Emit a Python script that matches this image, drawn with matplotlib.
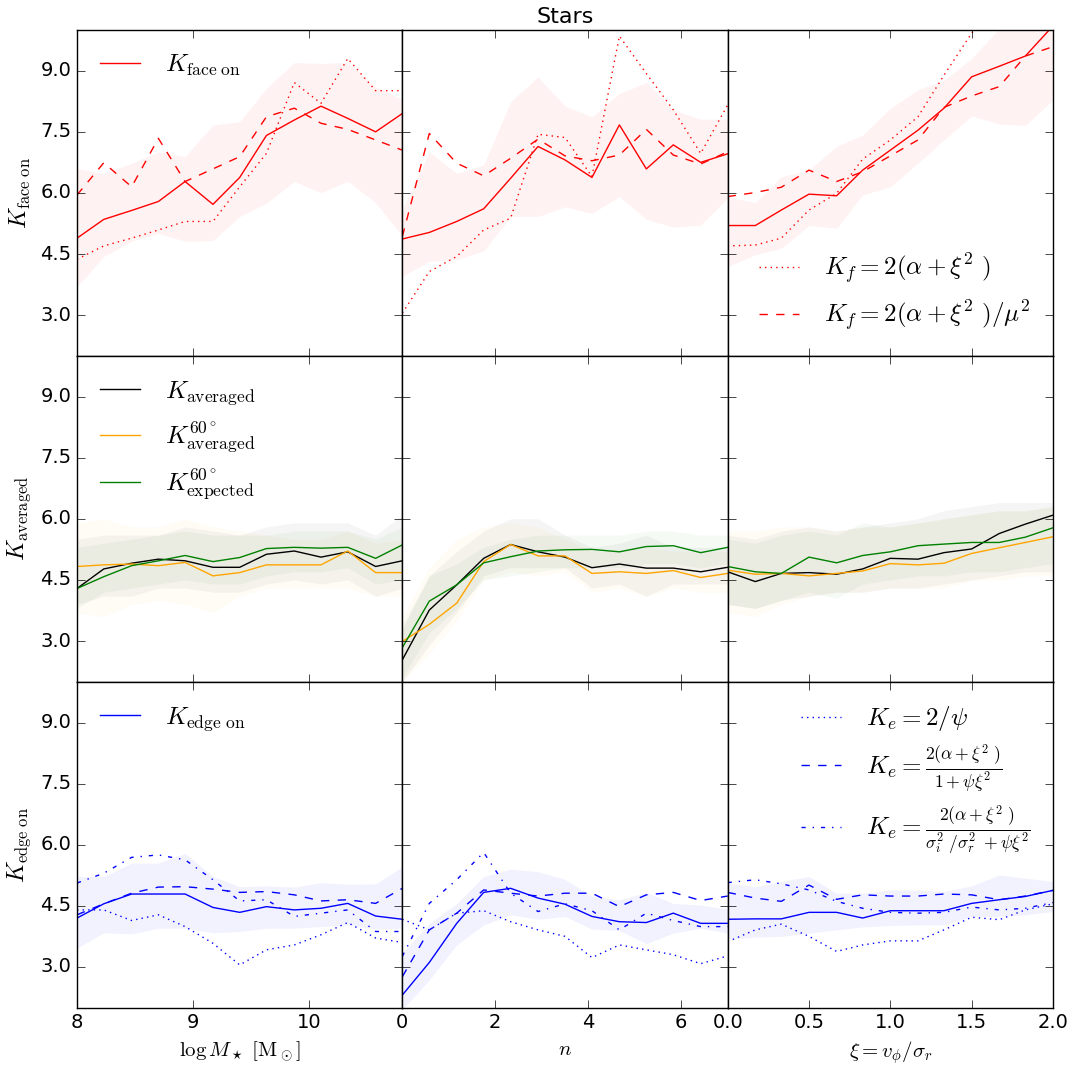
import numpy as np
import matplotlib
matplotlib.use("Agg")
import matplotlib.pyplot as plt

plt.style.use("classic")
plt.rcParams["mathtext.fontset"] = "cm"
plt.rcParams["figure.facecolor"] = "white"
plt.rcParams["savefig.facecolor"] = "white"

# bin centres for the three columns
logm = [8.0, 8.23, 8.47, 8.7, 8.93, 9.17, 9.4, 9.63, 9.87, 10.1, 10.33, 10.57, 10.8]
sersic_n = [0.0, 0.58, 1.17, 1.75, 2.33, 2.92, 3.5, 4.08, 4.67, 5.25, 5.83, 6.42, 7.0]
xi = [0.0, 0.17, 0.33, 0.5, 0.67, 0.83, 1.0, 1.17, 1.33, 1.5, 1.67, 1.83, 2.0]

# ---- face on (row 1) ----
face_m = [4.89, 5.35, 5.57, 5.79, 6.28, 5.72, 6.38, 7.41, 7.79, 8.13, 7.83, 7.50, 7.95]
face_m_lo = [3.70, 4.44, 4.81, 5.01, 4.81, 4.83, 5.42, 5.75, 6.28, 6.00, 6.29, 5.76, 4.93]
face_m_hi = [6.60, 6.48, 6.73, 7.01, 6.89, 7.67, 7.75, 8.57, 9.20, 9.18, 9.20, 8.60, 8.30]
face_m_dot = [4.37, 4.70, 4.89, 5.09, 5.30, 5.30, 6.15, 6.97, 8.71, 8.20, 9.30, 8.51, 8.51]
face_m_dash = [5.95, 6.74, 6.15, 7.34, 6.28, 6.59, 6.89, 7.87, 8.08, 7.71, 7.56, 7.30, 7.05]

face_n = [4.87, 5.03, 5.30, 5.61, 6.36, 7.14, 6.81, 6.38, 7.67, 6.59, 7.18, 6.75, 6.96]
face_n_lo = [3.95, 4.32, 4.36, 4.58, 5.42, 5.42, 5.66, 5.50, 5.91, 5.35, 5.16, 5.21, 5.87]
face_n_hi = [5.60, 7.01, 6.48, 6.69, 8.24, 8.85, 8.13, 7.87, 8.44, 8.71, 8.04, 7.81, 7.81]
face_n_dot = [3.05, 4.07, 4.44, 5.09, 5.38, 7.44, 7.36, 6.40, 9.85, 8.93, 8.04, 6.97, 8.16]
face_n_dash = [4.93, 7.46, 6.73, 6.42, 6.85, 7.32, 6.91, 6.79, 6.93, 7.56, 6.93, 6.71, 7.01]

face_x = [5.20, 5.20, 5.58, 5.97, 5.93, 6.56, 7.05, 7.54, 8.08, 8.85, 9.11, 9.36, 10.10]
face_x_lo = [4.19, 4.48, 4.64, 5.20, 5.13, 5.95, 6.15, 6.73, 7.30, 7.89, 7.69, 7.66, 8.28]
face_x_hi = [5.91, 5.76, 6.40, 6.56, 7.15, 7.42, 8.08, 8.53, 8.77, 9.30, 10.04, 10.30, 10.40]
face_x_dot = [4.70, 4.72, 4.89, 5.58, 5.99, 6.83, 7.30, 7.87, 8.89, 9.92, 10.80, 11.50, 12.00]
face_x_dash = [5.91, 6.01, 6.14, 6.56, 6.28, 6.52, 6.91, 7.30, 8.10, 8.38, 8.61, 9.36, 9.59]

# ---- averaged (row 2) ----
avg_m = [4.29, 4.77, 4.91, 5.01, 4.97, 4.81, 4.81, 5.13, 5.21, 5.06, 5.19, 4.83, 4.97]
avg_m_lo = [3.90, 4.10, 4.10, 4.30, 4.30, 4.20, 4.20, 4.40, 4.50, 4.40, 4.50, 4.10, 4.30]
avg_m_hi = [5.50, 5.60, 5.60, 5.60, 5.80, 5.70, 5.60, 5.80, 5.90, 5.90, 5.90, 5.60, 6.10]
avg60_m = [4.83, 4.87, 4.89, 4.85, 4.93, 4.60, 4.68, 4.87, 4.87, 4.87, 5.21, 4.68, 4.68]
avg60_m_lo = [3.70, 3.60, 3.90, 4.00, 3.90, 3.70, 4.10, 4.30, 4.30, 4.30, 4.30, 4.10, 4.10]
avg60_m_hi = [5.90, 6.00, 5.80, 5.80, 6.00, 5.80, 5.70, 5.60, 5.50, 5.50, 5.70, 5.40, 5.50]
exp60_m = [4.29, 4.58, 4.85, 4.97, 5.10, 4.95, 5.05, 5.27, 5.30, 5.28, 5.30, 5.03, 5.36]
exp60_m_lo = [3.80, 4.20, 4.30, 4.40, 4.50, 4.40, 4.40, 4.60, 4.70, 4.70, 4.80, 4.40, 4.50]
exp60_m_hi = [5.30, 5.40, 5.50, 5.60, 5.70, 5.60, 5.60, 5.60, 5.70, 5.70, 5.70, 5.50, 5.80]

avg_n = [2.54, 3.76, 4.38, 5.03, 5.37, 5.19, 5.06, 4.80, 4.89, 4.79, 4.79, 4.70, 4.81]
avg_n_lo = [2.00, 2.90, 3.70, 4.60, 4.80, 4.80, 4.80, 4.30, 4.40, 4.10, 4.40, 4.40, 4.40]
avg_n_hi = [3.30, 4.60, 5.20, 5.70, 6.00, 6.00, 5.60, 5.30, 5.40, 5.60, 5.30, 5.30, 5.30]
avg60_n = [2.99, 3.41, 3.93, 4.95, 5.37, 5.09, 5.09, 4.66, 4.70, 4.66, 4.73, 4.56, 4.66]
avg60_n_lo = [2.00, 2.70, 3.50, 4.50, 4.70, 4.60, 4.70, 4.20, 4.30, 4.10, 4.30, 4.20, 4.20]
avg60_n_hi = [3.60, 4.80, 5.50, 5.80, 5.90, 5.80, 5.50, 5.20, 5.20, 5.30, 5.20, 5.20, 5.20]
exp60_n = [2.84, 3.98, 4.38, 4.92, 5.07, 5.21, 5.24, 5.25, 5.19, 5.32, 5.34, 5.17, 5.30]
exp60_n_lo = [2.10, 3.20, 3.80, 4.50, 4.60, 4.70, 4.80, 4.80, 4.80, 4.90, 4.90, 4.80, 4.90]
exp60_n_hi = [3.40, 4.60, 4.90, 5.30, 5.50, 5.60, 5.60, 5.60, 5.60, 5.70, 5.70, 5.60, 5.60]

avg_x = [4.70, 4.46, 4.66, 4.68, 4.64, 4.77, 5.03, 5.01, 5.17, 5.26, 5.64, 5.87, 6.09]
avg_x_lo = [3.90, 3.80, 4.00, 4.10, 4.20, 4.20, 4.30, 4.30, 4.40, 4.50, 4.60, 4.70, 4.70]
avg_x_hi = [5.60, 5.50, 5.70, 5.80, 5.70, 5.80, 5.90, 6.00, 6.20, 6.30, 6.40, 6.40, 6.40]
avg60_x = [4.74, 4.64, 4.66, 4.60, 4.66, 4.72, 4.90, 4.87, 4.91, 5.15, 5.29, 5.42, 5.56]
avg60_x_lo = [3.70, 3.60, 3.90, 4.10, 4.20, 4.20, 4.30, 4.30, 4.30, 4.50, 4.50, 4.60, 4.60]
avg60_x_hi = [5.70, 5.70, 5.80, 5.80, 5.70, 5.80, 5.80, 5.90, 6.00, 6.10, 6.20, 6.20, 6.30]
exp60_x = [4.83, 4.70, 4.66, 5.06, 4.92, 5.10, 5.19, 5.34, 5.38, 5.42, 5.42, 5.55, 5.78]
exp60_x_lo = [3.90, 3.80, 4.00, 4.20, 4.05, 4.40, 4.50, 4.60, 4.60, 4.70, 4.70, 4.80, 4.90]
exp60_x_hi = [5.50, 5.40, 5.60, 5.70, 5.60, 5.90, 5.80, 5.90, 6.00, 6.10, 6.20, 6.20, 6.30]

# ---- edge on (row 3) ----
edge_m = [4.20, 4.55, 4.79, 4.79, 4.79, 4.46, 4.34, 4.48, 4.40, 4.44, 4.56, 4.25, 4.17]
edge_m_lo = [3.46, 3.84, 3.81, 3.95, 3.95, 3.84, 3.87, 3.95, 3.95, 3.99, 4.03, 3.93, 3.95]
edge_m_hi = [5.22, 5.22, 5.55, 5.55, 5.79, 5.22, 4.97, 4.99, 4.96, 5.07, 5.03, 5.04, 5.46]
edge_m_dot = [4.40, 4.40, 4.14, 4.28, 3.99, 3.58, 3.05, 3.42, 3.54, 3.79, 4.09, 3.71, 3.60]
edge_m_dash = [4.28, 4.55, 4.81, 4.96, 4.97, 4.91, 4.83, 4.85, 4.77, 4.62, 4.65, 4.56, 4.93]
edge_m_dd = [5.06, 5.30, 5.69, 5.75, 5.63, 5.14, 4.62, 4.65, 4.24, 4.32, 4.40, 3.87, 3.87]

edge_n = [2.31, 3.11, 4.07, 4.83, 4.93, 4.69, 4.54, 4.24, 4.11, 4.09, 4.32, 4.07, 4.07]
edge_n_lo = [1.95, 2.68, 3.54, 4.03, 4.28, 4.17, 4.24, 3.93, 3.89, 3.57, 3.83, 3.95, 3.83]
edge_n_hi = [3.34, 4.07, 4.56, 5.22, 5.40, 5.34, 5.15, 4.74, 4.65, 4.83, 4.56, 4.52, 4.42]
edge_n_dot = [4.17, 3.91, 4.32, 4.38, 4.11, 3.91, 3.75, 3.23, 3.54, 3.42, 3.30, 3.08, 3.27]
edge_n_dash = [2.76, 3.91, 4.32, 4.89, 4.81, 4.74, 4.81, 4.81, 4.48, 4.77, 4.83, 4.63, 4.74]
edge_n_dd = [3.26, 4.56, 5.14, 5.81, 4.81, 4.36, 4.55, 4.38, 3.91, 4.32, 4.14, 3.99, 3.99]

edge_x = [4.17, 4.18, 4.18, 4.34, 4.34, 4.20, 4.38, 4.38, 4.38, 4.56, 4.65, 4.73, 4.88]
edge_x_lo = [3.68, 3.73, 3.75, 3.83, 3.91, 3.98, 4.02, 4.03, 4.03, 4.24, 4.24, 4.28, 4.36]
edge_x_hi = [5.06, 4.97, 5.10, 5.22, 4.81, 4.81, 4.89, 4.89, 4.85, 4.99, 5.26, 5.18, 5.10]
edge_x_dot = [3.62, 3.91, 4.05, 3.75, 3.38, 3.54, 3.64, 3.64, 3.91, 4.22, 4.16, 4.40, 4.55]
edge_x_dash = [4.83, 4.69, 4.61, 5.01, 4.66, 4.77, 4.74, 4.74, 4.79, 4.77, 4.65, 4.74, 4.88]
edge_x_dd = [5.07, 5.14, 5.04, 4.89, 4.61, 4.44, 4.34, 4.32, 4.34, 4.47, 4.40, 4.44, 4.58]

xs = [logm, sersic_n, xi]
xlims = [(8, 10.8), (0, 7), (0, 2)]
xticks = [[8, 9, 10], [0, 2, 4, 6], [0.0, 0.5, 1.0, 1.5, 2.0]]
xticklabels = [["8", "9", "10"], ["0", "2", "4", "6"], ["0.0", "0.5", "1.0", "1.5", "2.0"]]
xlabels = [r"$\log M_\star\ [{\rm M_\odot}]$", r"$n$", r"$\xi = v_\phi/\sigma_r$"]
ylabels = [r"$K_{\rm face\ on}$", r"$K_{\rm averaged}$", r"$K_{\rm edge\ on}$"]

face = [(face_m, face_m_lo, face_m_hi, face_m_dot, face_m_dash),
        (face_n, face_n_lo, face_n_hi, face_n_dot, face_n_dash),
        (face_x, face_x_lo, face_x_hi, face_x_dot, face_x_dash)]
avg = [((avg_m, avg_m_lo, avg_m_hi), (avg60_m, avg60_m_lo, avg60_m_hi), (exp60_m, exp60_m_lo, exp60_m_hi)),
       ((avg_n, avg_n_lo, avg_n_hi), (avg60_n, avg60_n_lo, avg60_n_hi), (exp60_n, exp60_n_lo, exp60_n_hi)),
       ((avg_x, avg_x_lo, avg_x_hi), (avg60_x, avg60_x_lo, avg60_x_hi), (exp60_x, exp60_x_lo, exp60_x_hi))]
edge = [(edge_m, edge_m_lo, edge_m_hi, edge_m_dot, edge_m_dash, edge_m_dd),
        (edge_n, edge_n_lo, edge_n_hi, edge_n_dot, edge_n_dash, edge_n_dd),
        (edge_x, edge_x_lo, edge_x_hi, edge_x_dot, edge_x_dash, edge_x_dd)]

fig, axes = plt.subplots(3, 3, figsize=(10.76, 10.67), dpi=100)
fig.subplots_adjust(left=0.0716, right=0.9786, top=0.9719, bottom=0.0556,
                    wspace=0, hspace=0)

leg_fs = 18
for j in range(3):
    x = xs[j]
    # row 1
    ax = axes[0, j]
    m, lo, hi, dot, dash = face[j]
    ax.fill_between(x, lo, hi, color="r", alpha=0.05, lw=0)
    ax.plot(x, m, "r-", label=r"$K_{\rm face\ on}$")
    ax.plot(x, dot, "r:", label=r"$K_f = 2(\alpha + \xi^2\ )$")
    ax.plot(x, dash, "r--", label=r"$K_f = 2(\alpha + \xi^2\ )/\mu^2$")
    # row 2
    ax = axes[1, j]
    cols = ["k", "orange", "g"]
    labs = [r"$K_{\rm averaged}$", r"$K_{\rm averaged}^{60^\circ}$", r"$K_{\rm expected}^{60^\circ}$"]
    for (m, lo, hi), c, lab in zip(avg[j], cols, labs):
        ax.fill_between(x, lo, hi, color=c, alpha=0.04, lw=0)
        ax.plot(x, m, "-", color=c, label=lab)
    # row 3
    ax = axes[2, j]
    m, lo, hi, dot, dash, dd = edge[j]
    ax.fill_between(x, lo, hi, color="b", alpha=0.05, lw=0)
    ax.plot(x, m, "b-", label=r"$K_{\rm edge\ on}$")
    ax.plot(x, dot, "b:", label=r"$K_e = 2/\psi$")
    ax.plot(x, dash, "b--", label=r"$K_e = \frac{2(\alpha+\xi^2\ )}{1+\psi\xi^2}$")
    ax.plot(x, dd, "b-.", label=r"$K_e = \frac{2(\alpha+\xi^2\ )}{\sigma_i^2\ /\sigma_r^2\ +\psi\xi^2}$")

    for i in range(3):
        ax = axes[i, j]
        ax.set_xlim(*xlims[j])
        ax.set_ylim(2, 10)
        ax.set_yticks([3.0, 4.5, 6.0, 7.5, 9.0])
        ax.set_xticks(xticks[j])
        ax.tick_params(labelsize=14, length=6)
        if j == 0:
            ax.set_yticklabels(["3.0", "4.5", "6.0", "7.5", "9.0"])
            ax.set_ylabel(ylabels[i], fontsize=17)
        else:
            ax.set_yticklabels([])
        if i == 2:
            ax.set_xticklabels(xticklabels[j])
            ax.set_xlabel(xlabels[j], fontsize=15)
        else:
            ax.set_xticklabels([])

# legends
kw = dict(frameon=False, fontsize=leg_fs, handlelength=2.2, handletextpad=0.7)
tl = dict(loc="upper left", bbox_to_anchor=(0.0, 0.975), borderaxespad=0.2)
h, l = axes[0, 0].get_legend_handles_labels()
axes[0, 0].legend(h[:1], l[:1], **tl, **kw)
h, l = axes[0, 2].get_legend_handles_labels()
axes[0, 2].legend(h[1:], l[1:], loc="lower right", **kw)
axes[1, 0].legend(labelspacing=0.5, **tl, **kw)
h, l = axes[2, 0].get_legend_handles_labels()
axes[2, 0].legend(h[:1], l[:1], **tl, **kw)
h, l = axes[2, 2].get_legend_handles_labels()
axes[2, 2].legend(h[1:], l[1:], loc="upper right", labelspacing=0.35, **kw)

axes[0, 1].set_title("Stars", fontsize=16)

fig.savefig("out.png", dpi=100)
